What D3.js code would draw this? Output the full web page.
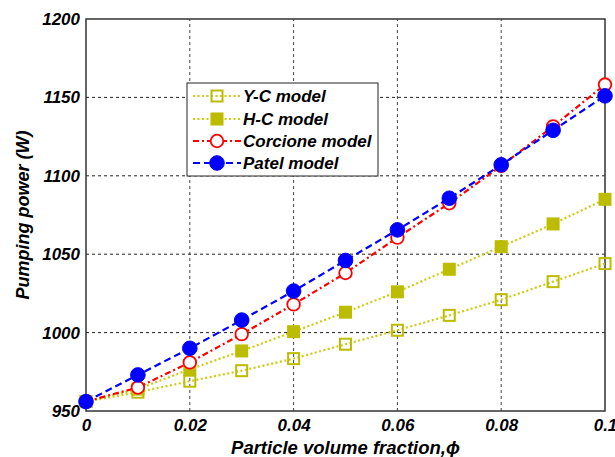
<!DOCTYPE html>
<html>
<head>
<meta charset="utf-8">
<script src="https://cdn.jsdelivr.net/npm/d3@7"></script>
<style>
  body { margin: 0; background: #fff; }
  text { font-family: "Liberation Sans", Arial, sans-serif; font-weight: bold; font-style: italic; }
</style>
</head>
<body>
<div id="chart"></div>
<script>
// Data
const phi = [0, 0.01, 0.02, 0.03, 0.04, 0.05, 0.06, 0.07, 0.08, 0.09, 0.1];
const ycModel = [956, 962, 969, 975.7, 983.4, 992.6, 1001.5, 1011, 1021, 1032.5, 1044];
const hcModel = [956, 964, 976.6, 988.3, 1000.6, 1013, 1026, 1040.4, 1054.8, 1069.3, 1085];
const corcioneModel = [956, 965, 981, 999, 1018, 1038, 1060.6, 1082.5, 1106.3, 1131.5, 1158.2];
const patelModel = [956, 973, 990, 1008, 1026.5, 1046, 1065.5, 1085.7, 1107, 1129, 1151];
const xTicks = [0, 0.02, 0.04, 0.06, 0.08, 0.1];
const yTicks = [950, 1000, 1050, 1100, 1150, 1200];
const seriesNames = ["Y-C model", "H-C model", "Corcione model", "Patel model"];

const width = 615, height = 457;
const margin = { top: 19, right: 10, bottom: 46, left: 86 };

const svg = d3.select("#chart").append("svg")
    .attr("width", width)
    .attr("height", height);

// Scales
const x = d3.scaleLinear().domain([0, 0.1]).range([margin.left, width - margin.right]);
const y = d3.scaleLinear().domain([950, 1200]).range([height - margin.bottom, margin.top]);

// Grid lines
svg.append("g")
    .selectAll("line")
    .data(xTicks.slice(1, -1))
    .join("line")
    .attr("x1", d => x(d)).attr("x2", d => x(d))
    .attr("y1", y(950)).attr("y2", y(1200))
    .attr("stroke", "#444").attr("stroke-width", 1).attr("stroke-dasharray", "3,3");
svg.append("g")
    .selectAll("line")
    .data(yTicks.slice(1, -1))
    .join("line")
    .attr("x1", x(0)).attr("x2", x(0.1))
    .attr("y1", d => y(d)).attr("y2", d => y(d))
    .attr("stroke", "#222").attr("stroke-width", 1).attr("stroke-dasharray", "3,3");

// Axes box
svg.append("rect")
    .attr("x", x(0)).attr("y", y(1200))
    .attr("width", x(0.1) - x(0)).attr("height", y(950) - y(1200))
    .attr("fill", "none").attr("stroke", "#333").attr("stroke-width", 1.5);

// Axes
svg.append("g")
    .attr("transform", `translate(0,${y(950)})`)
    .call(d3.axisBottom(x).tickValues(xTicks).tickFormat(d => String(+d.toFixed(2))).tickSize(0).tickPadding(8))
    .call(g => g.select(".domain").remove())
    .selectAll("text")
    .attr("fill", "#000")
    .style("font-size", "17px");

svg.append("g")
    .attr("transform", `translate(${x(0)},0)`)
    .call(d3.axisLeft(y).tickValues(yTicks).tickFormat(d3.format("d")).tickSize(0).tickPadding(6))
    .call(g => g.select(".domain").remove())
    .selectAll("text")
    .attr("fill", "#000")
    .style("font-size", "17px");

// Axis labels
svg.append("text")
    .attr("x", (x(0) + x(0.1)) / 2)
    .attr("y", 454)
    .attr("text-anchor", "middle")
    .style("font-size", "18.5px")
    .text("Particle volume fraction,\u03D5");

svg.append("text")
    .attr("transform", `translate(29,${(y(950) + y(1200)) / 2}) rotate(-90)`)
    .attr("text-anchor", "middle")
    .style("font-size", "18px")
    .text("Pumping power (W)");

// Series styles
const olive = "#bcbc00", oliveLine = "#cccc10";
const series = [
    { name: seriesNames[0], values: ycModel, line: oliveLine, marker: "square", fill: "none", stroke: olive, dash: "2,2.5" },
    { name: seriesNames[1], values: hcModel, line: oliveLine, marker: "square", fill: olive, stroke: olive, dash: "2,2.5" },
    { name: seriesNames[2], values: corcioneModel, line: "#ff0000", marker: "circle", fill: "#fff", stroke: "#ff0000", dash: "6,3,2,3" },
    { name: seriesNames[3], values: patelModel, line: "#0000ff", marker: "circle", fill: "#0000ff", stroke: "#0000ff", dash: "7,4" }
];

const line = d3.line().x(d => x(d[0])).y(d => y(d[1]));

function drawMarker(g, s, cx, cy) {
    if (s.marker === "square") {
        g.append("rect")
            .attr("x", cx - 5.5).attr("y", cy - 5.5)
            .attr("width", 11).attr("height", 11)
            .attr("fill", s.fill).attr("stroke", s.stroke).attr("stroke-width", 2);
    } else {
        g.append("circle")
            .attr("cx", cx).attr("cy", cy)
            .attr("r", s.fill === "#fff" ? 6.3 : 7.3)
            .attr("fill", s.fill).attr("stroke", s.stroke).attr("stroke-width", s.fill === "#fff" ? 1.8 : 1);
    }
}

series.forEach(s => {
    const pts = phi.map((p, i) => [p, s.values[i]]);
    const g = svg.append("g");
    g.append("path")
        .attr("d", line(pts))
        .attr("fill", "none")
        .attr("stroke", s.line)
        .attr("stroke-width", 2.2)
        .attr("stroke-dasharray", s.dash);
    pts.forEach(p => drawMarker(g, s, x(p[0]), y(p[1])));
});

// Legend
const legend = svg.append("g");
legend.append("rect")
    .attr("x", 187).attr("y", 83)
    .attr("width", 191).attr("height", 93)
    .attr("fill", "#fff").attr("stroke", "#222").attr("stroke-width", 1);

const rowY = [96, 119, 141, 163];
series.forEach((s, i) => {
    const ly = rowY[i];
    legend.append("line")
        .attr("x1", 193).attr("x2", 241)
        .attr("y1", ly).attr("y2", ly)
        .attr("stroke", s.line).attr("stroke-width", 2.2)
        .attr("stroke-dasharray", s.dash);
    drawMarker(legend, s, 217, ly);
    legend.append("text")
        .attr("x", 243).attr("y", ly + 6)
        .style("font-size", "17px")
        .text(s.name);
});
</script>
</body>
</html>
